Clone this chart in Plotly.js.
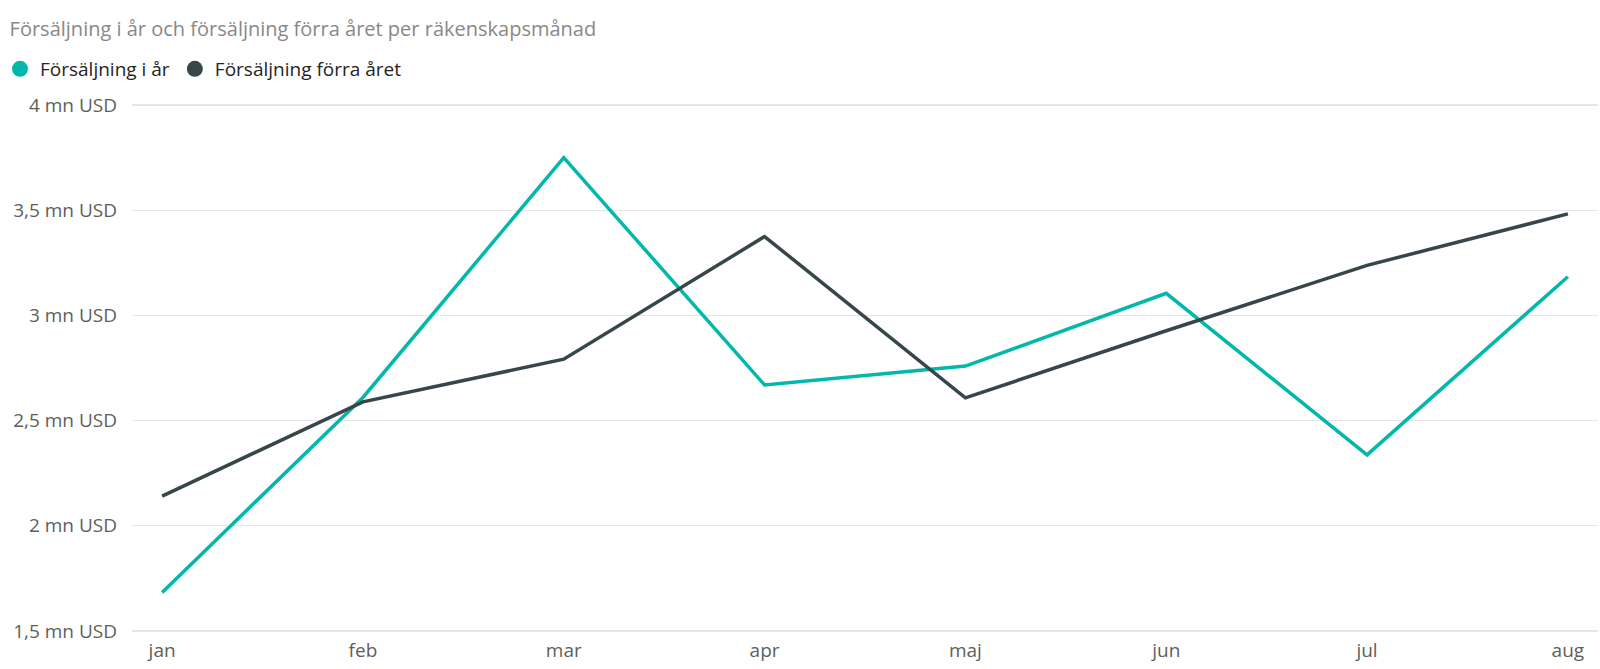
<!DOCTYPE html>
<html>
<head>
<meta charset="utf-8">
<script src="https://cdn.plot.ly/plotly-3.0.1.min.js"></script>
<style>
  html, body { margin: 0; padding: 0; background: #fff; }
  #chart { width: 1600px; height: 669px; }
</style>
</head>
<body>
<div id="chart"></div>
<script>
// månader och värden (miljoner USD)
var months = ['jan', 'feb', 'mar', 'apr', 'maj', 'jun', 'jul', 'aug']
var salesThisYear = [1.683, 2.61, 3.75, 2.669, 2.759, 3.105, 2.337, 3.184]
var salesLastYear = [2.141, 2.589, 2.792, 3.375, 2.608, 2.927, 3.238, 3.483]
var seriesNames = ['Försäljning i år', 'Försäljning förra året']
var seriesColors = ['#01B8AA', '#374649']
var yTickVals = [1.5, 2, 2.5, 3, 3.5, 4]
var yTickText = ['1,5 mn USD', '2 mn USD', '2,5 mn USD', '3 mn USD', '3,5 mn USD', '4 mn USD']

var font = 'Open Sans, Noto Sans, sans-serif'

function lineTrace(y, i) {
    return {
        x: months,
        y: y,
        type: 'scatter',
        mode: 'lines',
        line: { color: seriesColors[i], width: 3.5 },
        name: seriesNames[i],
        showlegend: false,
        hoverinfo: 'skip'
    }
}

// legend-only traces, so the legend gets round dots like the original
function legendTrace(i) {
    return {
        x: [null],
        y: [null],
        type: 'scatter',
        mode: 'markers',
        marker: { color: seriesColors[i], size: 16 },
        name: seriesNames[i]
    }
}

var data = [
    lineTrace(salesThisYear, 0),
    lineTrace(salesLastYear, 1),
    legendTrace(0),
    legendTrace(1)
]

var layout = {
    width: 1600,
    height: 669,
    margin: { l: 132, r: 2, t: 103, b: 36 },
    paper_bgcolor: '#fff',
    plot_bgcolor: '#fff',
    font: { family: font, color: '#605E5C' },
    title: {
        text: 'Försäljning i år och försäljning förra året per räkenskapsmånad',
        font: { family: font, size: 20, color: '#8a8886' },
        xref: 'container', x: 0.006, xanchor: 'left',
        yref: 'container', y: 1 - 29 / 669, yanchor: 'middle'
    },
    legend: {
        orientation: 'h',
        xref: 'container', x: -0.007, xanchor: 'left',
        yref: 'container', y: 1 - 69 / 669, yanchor: 'middle',
        font: { family: font, size: 19, color: '#252423' },
        itemwidth: 30,
        tracegroupgap: 0
    },
    xaxis: {
        type: 'category',
        range: [-0.15, 7.15],
        showgrid: false,
        showline: false,
        zeroline: false,
        ticks: '',
        tickfont: { family: font, size: 19, color: '#605E5C' },
        ticklabelstandoff: 4
    },
    yaxis: {
        range: [1.49, 4.01],
        tickvals: yTickVals,
        ticktext: yTickText,
        showgrid: true,
        gridcolor: '#e6e6e6',
        gridwidth: 1.5,
        showline: false,
        zeroline: false,
        ticks: '',
        tickfont: { family: font, size: 19, color: '#605E5C' },
        ticklabelstandoff: 14
    },
    hovermode: false
}

Plotly.newPlot('chart', data, layout, { displayModeBar: false, staticPlot: true })
</script>
</body>
</html>
